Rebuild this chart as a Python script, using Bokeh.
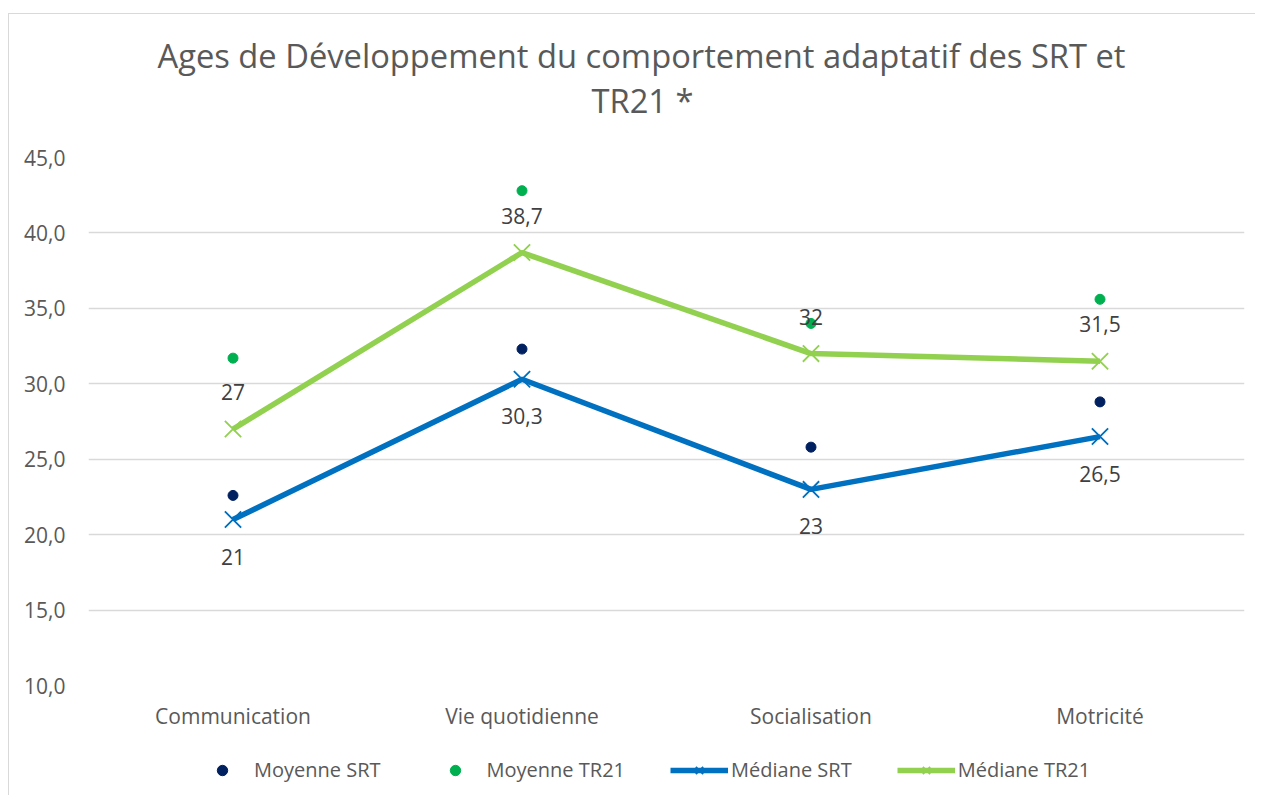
from bokeh.plotting import figure
from bokeh.layouts import column
from bokeh.models import Title, Legend, LegendItem, ColumnDataSource, FixedTicker, Range1d
from bokeh.core.properties import value
from bokeh.embed import file_html
from bokeh.resources import INLINE

categories = ["Communication", "Vie quotidienne", "Socialisation", "Motricité"]
moyenne_srt = [22.6, 32.3, 25.8, 28.8]
moyenne_tr21 = [31.7, 42.8, 34.0, 35.6]
mediane_srt = [21, 30.3, 23, 26.5]
mediane_tr21 = [27, 38.7, 32, 31.5]
y_ticks = [10, 15, 20, 25, 30, 35, 40, 45]
y_tick_labels = ["10,0", "15,0", "20,0", "25,0", "30,0", "35,0", "40,0", "45,0"]
title_lines = ["Ages  de Développement du comportement adaptatif des SRT et", "TR21 *"]
series_names = ["Moyenne SRT", "Moyenne TR21", "Médiane SRT", "Médiane TR21"]

FONT = "Open Sans"
GREY = "#595959"
BORDER = "#d9d9d9"
C_MSRT, C_MTR, C_DSRT, C_DTR = "#002060", "#00B050", "#0070C0", "#92D050"
NAN = float("nan")


def fr(v):
    return f"{v:g}".replace(".", ",")


def strip(height):
    f = figure(width=1255, height=height, x_range=(0, 1), y_range=(0, 1),
               x_axis_location=None, y_axis_location=None,
               output_backend="svg", toolbar_location=None)
    f.grid.visible = False
    f.outline_line_color = None
    f.background_fill_color = None
    f.border_fill_color = None
    return f


LEFT_LINE = f"linear-gradient({BORDER},{BORDER}) 8px 0 / 1px 100% no-repeat"

# ---------------- title strip ----------------
tf = strip(130)
tf.min_border_top = 0
tf.frame_height = 34
tf.height = None
tf.styles = {
    "background": (f"linear-gradient({BORDER},{BORDER}) 8px 13px / 1px 100% no-repeat, "
                   f"linear-gradient({BORDER},{BORDER}) 8px 13px / 100% 1px no-repeat, white"),
}
tf.add_layout(Title(text=title_lines[0], align="left", offset=69, vertical_align="top",
                    text_font=FONT, text_font_size="32.7px", text_font_style="normal",
                    text_color=GREY, standoff=-4), "below")
tf.add_layout(Title(text=title_lines[1], align="left", offset=503, vertical_align="top",
                    text_font=FONT, text_font_size="32.7px", text_font_style="normal",
                    text_color=GREY, standoff=0), "below")
tf.min_border_bottom = 96

# ---------------- main chart ----------------
src = ColumnDataSource(dict(
    cat=categories,
    msrt=moyenne_srt,
    mtr=moyenne_tr21,
    dsrt=mediane_srt,
    dtr=mediane_tr21,
    lsrt=[fr(v) for v in mediane_srt],
    ltr=[fr(v) for v in mediane_tr21],
))

p = figure(
    x_range=categories,
    y_range=Range1d(10, 45),
    frame_width=1156, frame_height=528,
    output_backend="svg", toolbar_location=None,
    title=None,
    min_border_left=88, min_border_right=11,
    min_border_top=27, min_border_bottom=55,
)
p.styles = {"background": LEFT_LINE + ", white"}
p.outline_line_color = None
p.background_fill_color = "white"
p.border_fill_color = None

p.yaxis.ticker = FixedTicker(ticks=y_ticks)
p.yaxis.major_label_overrides = {t: l for t, l in zip(y_ticks, y_tick_labels)}
for ax in (p.xaxis, p.yaxis):
    ax.axis_line_color = None
    ax.major_tick_line_color = None
    ax.minor_tick_line_color = None
    ax.major_label_text_font = FONT
    ax.major_label_text_font_size = "21px"
    ax.major_label_text_color = GREY
p.yaxis.major_label_standoff = 17
p.xaxis.major_label_standoff = 10
p.xgrid.grid_line_color = None
p.ygrid.ticker = FixedTicker(ticks=y_ticks)
p.ygrid.grid_line_color = BORDER
p.ygrid.grid_line_width = 1.5

p.scatter("cat", "msrt", source=src, size=10, color=C_MSRT, marker="circle")
p.scatter("cat", "mtr", source=src, size=10, color=C_MTR, marker="circle")
p.line("cat", "dsrt", source=src, line_width=5.5, color=C_DSRT)
p.scatter("cat", "dsrt", source=src, marker="x", size=23, line_width=1.8, color=C_DSRT)
p.line("cat", "dtr", source=src, line_width=5.5, color=C_DTR)
p.scatter("cat", "dtr", source=src, marker="x", size=23, line_width=1.8, color=C_DTR)

p.text("cat", "dtr", text="ltr", source=src, y_offset=-37, text_align="center",
       text_baseline="middle", text_font=value(FONT), text_font_size="21px",
       text_color="#404040")
p.text("cat", "dsrt", text="lsrt", source=src, y_offset=37, text_align="center",
       text_baseline="middle", text_font=value(FONT), text_font_size="21px",
       text_color="#404040")

# ---------------- legend strip ----------------
lf = strip(55)
lf.min_border = 0
lf.styles = {"background": LEFT_LINE + ", white"}
g_ms = lf.scatter(x=[NAN], y=[NAN], size=10, color=C_MSRT, marker="circle")
g_mt = lf.scatter(x=[NAN], y=[NAN], size=10, color=C_MTR, marker="circle")
g_ls = lf.line(x=[NAN], y=[NAN], line_width=5.5, color=C_DSRT)
g_xs = lf.scatter(x=[NAN], y=[NAN], marker="x", size=22, line_width=1.8, color=C_DSRT)
g_lt = lf.line(x=[NAN], y=[NAN], line_width=5.5, color=C_DTR)
g_xt = lf.scatter(x=[NAN], y=[NAN], marker="x", size=22, line_width=1.8, color=C_DTR)

legend = Legend(items=[
    LegendItem(label=series_names[0], renderers=[g_ms]),
    LegendItem(label=series_names[1], renderers=[g_mt]),
    LegendItem(label=series_names[2], renderers=[g_ls, g_xs]),
    LegendItem(label=series_names[3], renderers=[g_lt, g_xt]),
], orientation="horizontal", location=(105, 12),
    glyph_width=58, glyph_height=26, label_standoff=3, spacing=45,
    padding=0, margin=0,
    border_line_alpha=0, background_fill_alpha=0,
    label_text_font=FONT, label_text_font_size="20px", label_text_color=GREY)
lf.add_layout(legend, "center")

layout = column(tf, p, lf, spacing=0)
open("out.html", "w").write(file_html(layout, INLINE))
